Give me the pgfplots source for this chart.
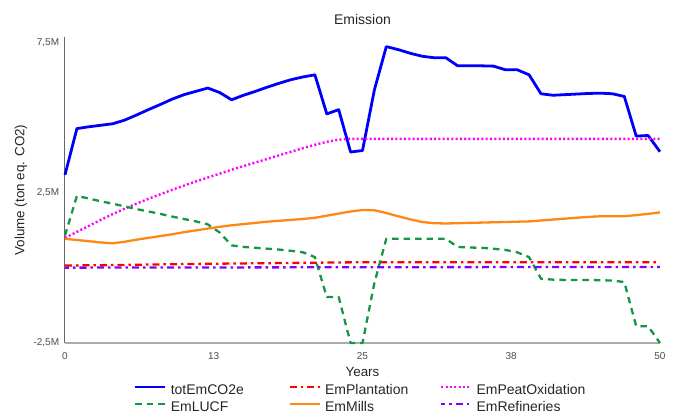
\documentclass[border=0pt]{standalone}
\usepackage{pgfplots}
\pgfplotsset{compat=1.18}
\usepackage{fontspec}
\setmainfont{Liberation Sans}
\definecolor{cBlue}{RGB}{0,0,250}
\definecolor{cRed}{RGB}{255,0,0}
\definecolor{cPink}{RGB}{255,0,255}
\definecolor{cGreen}{RGB}{20,150,70}
\definecolor{cOrange}{RGB}{255,135,20}
\definecolor{cPurple}{RGB}{130,0,255}
\begin{document}
\begin{tikzpicture}
\path[use as bounding box] (0,0) rectangle (675pt,416pt);
\begin{axis}[
  at={(65pt,73pt)}, anchor=south west,
  scale only axis, width=595pt, height=306pt,
  xmin=0, xmax=50, ymin=-2.5, ymax=7.69,
  clip=false,
  axis x line=bottom, axis y line=left,
  x axis line style={-, draw=black!33, line width=1.6pt},
  y axis line style={-, draw=black!60, line width=1pt},
  xtick={0,12.5,25,37.5,50}, xticklabels={0,13,25,38,50},
  ytick={-2.5,2.5,7.5}, yticklabels={{-2,5M},{2,5M},{7,5M}},
  major tick length=0pt,
  xticklabel style={font=\fontsize{10}{12}\selectfont, text=black!70, anchor=base, yshift=-16.3pt, inner sep=0pt},
  yticklabel style={font=\fontsize{10}{12}\selectfont, text=black!70, anchor=east, xshift=-5.7pt, inner sep=0pt},
  title={Emission},
  title style={font=\fontsize{14}{16}\selectfont, text=black!85, at={(axis description cs:0.5,1.022)}, anchor=base, inner sep=0pt},
  xlabel={Years},
  xlabel style={font=\fontsize{13.4}{15}\selectfont, text=black!85, at={(axis description cs:0.5,-0.110)}, anchor=base, inner sep=0pt},
  ylabel={Volume (ton eq. CO2)},
  ylabel style={font=\fontsize{13.4}{15}\selectfont, text=black!85, at={(axis description cs:-0.074,0.5)}, anchor=center, inner sep=0pt},
  legend columns=3,
  legend style={at={(axis description cs:0.116,-0.1356)}, anchor=north west, draw=none, fill=none, inner sep=0pt, outer sep=0pt,
    font=\fontsize{14}{16}\selectfont, text=black!85,
    nodes={inner sep=0pt, text height=10pt, text depth=3pt},
    row sep=3.7pt,
    /tikz/every odd column/.append style={column sep=4pt}},
  legend cell align=left,
  legend image code/.code={\draw[#1] (0pt,4pt) -- (30pt,4pt);},
  line join=round,
]
% totEmCO2e
\addplot[cBlue, line width=2.8pt] coordinates {
(0,3.10)(1,4.64)(2,4.70)(3,4.75)(4,4.80)(5,4.92)(6,5.09)(7,5.27)(8,5.44)(9,5.62)
(10,5.77)(11,5.88)(12,5.99)(13,5.84)(14,5.60)(15,5.75)(16,5.88)(17,6.02)(18,6.15)(19,6.27)
(20,6.36)(21,6.43)(22,5.13)(23,5.27)(24,3.86)(25,3.91)(26,5.93)(27,7.37)(28,7.27)(29,7.15)
(30,7.05)(31,7.00)(32,7.00)(33,6.73)(34,6.73)(35,6.73)(36,6.72)(37,6.60)(38,6.60)(39,6.43)
(40,5.80)(41,5.75)(42,5.77)(43,5.79)(44,5.81)(45,5.82)(46,5.80)(47,5.71)(48,4.39)(49,4.41)
(50,3.87)};
\addlegendentry{\makebox[118pt][l]{totEmCO2e}}
% EmPlantation
\addplot[cRed, line width=2.3pt, dash pattern=on 7pt off 4pt on 2.5pt off 4pt] coordinates {
(0,0.08)(5,0.10)(10,0.13)(15,0.15)(20,0.17)(25,0.19)(30,0.19)(35,0.19)(40,0.19)(45,0.19)(50,0.19)};
\addlegendentry{\makebox[115pt][l]{EmPlantation}}
% EmPeatOxidation
\addplot[cPink, line width=2.4pt, dash pattern=on 2pt off 2.3pt] coordinates {
(0,1.00)(1,1.20)(2,1.40)(3,1.60)(4,1.79)(5,1.97)(6,2.14)(7,2.30)(8,2.45)(9,2.60)
(10,2.74)(11,2.88)(12,3.01)(13,3.14)(14,3.27)(15,3.39)(16,3.51)(17,3.63)(18,3.75)(19,3.87)
(20,3.99)(21,4.10)(22,4.20)(23,4.27)(24,4.30)(25,4.30)(26,4.30)(27,4.30)(28,4.30)(29,4.30)
(30,4.30)(31,4.30)(32,4.30)(33,4.30)(34,4.30)(35,4.30)(36,4.30)(37,4.30)(38,4.30)(39,4.30)
(40,4.30)(41,4.30)(42,4.30)(43,4.30)(44,4.30)(45,4.30)(46,4.30)(47,4.30)(48,4.30)(49,4.30)
(50,4.30)};
\addlegendentry{EmPeatOxidation}
% EmLUCF
\addplot[cGreen, line width=2.3pt, dash pattern=on 6.5pt off 5pt] coordinates {
(0,1.08)(1,2.40)(2,2.31)(3,2.22)(4,2.14)(5,2.05)(6,1.96)(7,1.88)(8,1.80)(9,1.71)
(10,1.63)(11,1.55)(12,1.45)(13,1.18)(14,0.75)(15,0.70)(16,0.67)(17,0.64)(18,0.61)(19,0.57)
(20,0.52)(21,0.36)(22,-0.97)(23,-0.97)(24,-2.5)(25,-2.5)(26,-0.5)(27,0.97)(28,0.97)(29,0.97)
(30,0.97)(31,0.97)(32,0.97)(33,0.70)(34,0.68)(35,0.67)(36,0.64)(37,0.60)(38,0.52)(39,0.36)
(40,-0.36)(41,-0.39)(42,-0.40)(43,-0.40)(44,-0.40)(45,-0.41)(46,-0.42)(47,-0.47)(48,-1.94)(49,-1.94)
(50,-2.5)};
\addlegendentry{\makebox[118pt][l]{EmLUCF}}
% EmMills
\addplot[cOrange, line width=2.3pt] coordinates {
(0,0.97)(1,0.93)(2,0.89)(3,0.85)(4,0.82)(5,0.87)(6,0.94)(7,1.00)(8,1.06)(9,1.12)
(10,1.19)(11,1.25)(12,1.31)(13,1.37)(14,1.42)(15,1.46)(16,1.50)(17,1.54)(18,1.57)(19,1.60)
(20,1.63)(21,1.67)(22,1.74)(23,1.81)(24,1.88)(25,1.93)(26,1.92)(27,1.83)(28,1.72)(29,1.62)
(30,1.53)(31,1.49)(32,1.48)(33,1.49)(34,1.50)(35,1.51)(36,1.52)(37,1.53)(38,1.54)(39,1.55)
(40,1.58)(41,1.61)(42,1.64)(43,1.67)(44,1.70)(45,1.72)(46,1.72)(47,1.72)(48,1.76)(49,1.80)
(50,1.85)};
\addlegendentry{\makebox[115pt][l]{EmMills}}
% EmRefineries
\addplot[cPurple, line width=2.3pt, dash pattern=on 7pt off 4pt on 2.5pt off 4pt, dash phase=3pt] coordinates {
(0,0.01)(10,0.015)(20,0.02)(30,0.025)(40,0.03)(50,0.03)};
\addlegendentry{EmRefineries}
\end{axis}
\end{tikzpicture}
\end{document}
